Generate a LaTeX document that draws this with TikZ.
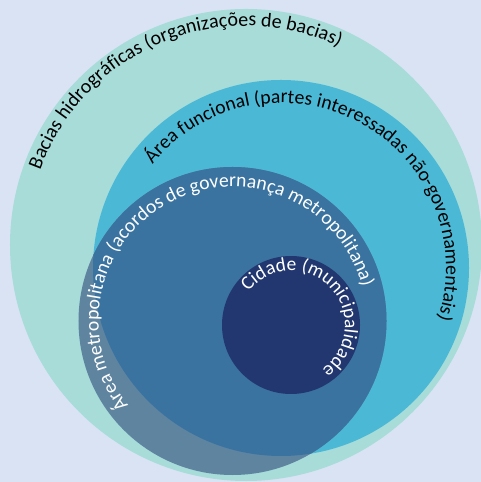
\documentclass[tikz,border=0pt]{standalone}
\usepackage{fontspec}
\setmainfont{Carlito}
\usetikzlibrary{decorations.text}
\definecolor{bgc}{HTML}{DAE3F3}
\definecolor{outerc}{HTML}{A8DCD9}
\definecolor{funcc}{HTML}{4BB9D6}
\definecolor{metroc}{HTML}{5F84A0}
\definecolor{metroinc}{HTML}{3A73A0}
\definecolor{cityc}{HTML}{22376F}
\tikzset{
  ring/.style={circle, inner sep=0pt, draw=none},
  curvetext/.style={decorate, decoration={text along path, text align=left, text={#1}}}
}
\begin{document}
\begin{tikzpicture}[x=1bp,y=1bp]
\fill[bgc] (0,0) rectangle (481,482);
\useasboundingbox (0,0) rectangle (481,482);
\coordinate (oc) at (246,237);
\coordinate (fc) at (281,214);
\coordinate (mc) at (232.5,161);
\coordinate (cc) at (291,157);
\node[ring, fill=outerc, minimum size=472bp] (outer) at (oc) {};
\node[ring, fill=funcc, minimum size=376bp] (func) at (fc) {};
\node[ring, fill=metroc, minimum size=308bp] (metro) at (mc) {};
\begin{scope}
  \clip (fc) circle[radius=188];
  \fill[metroinc] (mc) circle[radius=154];
\end{scope}
\node[ring, fill=cityc, minimum size=138bp] (city) at (cc) {};
\path[curvetext={|\fontsize{20bp}{24bp}\selectfont|Bacias hidrográficas (organizações de bacias)}]
  ([shift={(160:219)}]oc) arc[start angle=160, end angle=-80, radius=219];
\path[curvetext={|\fontsize{19.7bp}{24bp}\selectfont|Área funcional (partes interessadas não-governamentais)}]
  ([shift={(141:165)}]fc) arc[start angle=141, end angle=-120, radius=165];
\path[curvetext={|\fontsize{19.7bp}{24bp}\selectfont\color{white}|Área metropolitana (acordos de governança metropolitana)}]
  ([shift={(219:134)}]mc) arc[start angle=219, end angle=-60, radius=134];
\path[curvetext={|\fontsize{19.5bp}{24bp}\selectfont\color{white}|Cidade (municipalidade}]
  ([shift={(142:54)}]cc) arc[start angle=142, end angle=-120, radius=54];
\end{tikzpicture}
\end{document}
